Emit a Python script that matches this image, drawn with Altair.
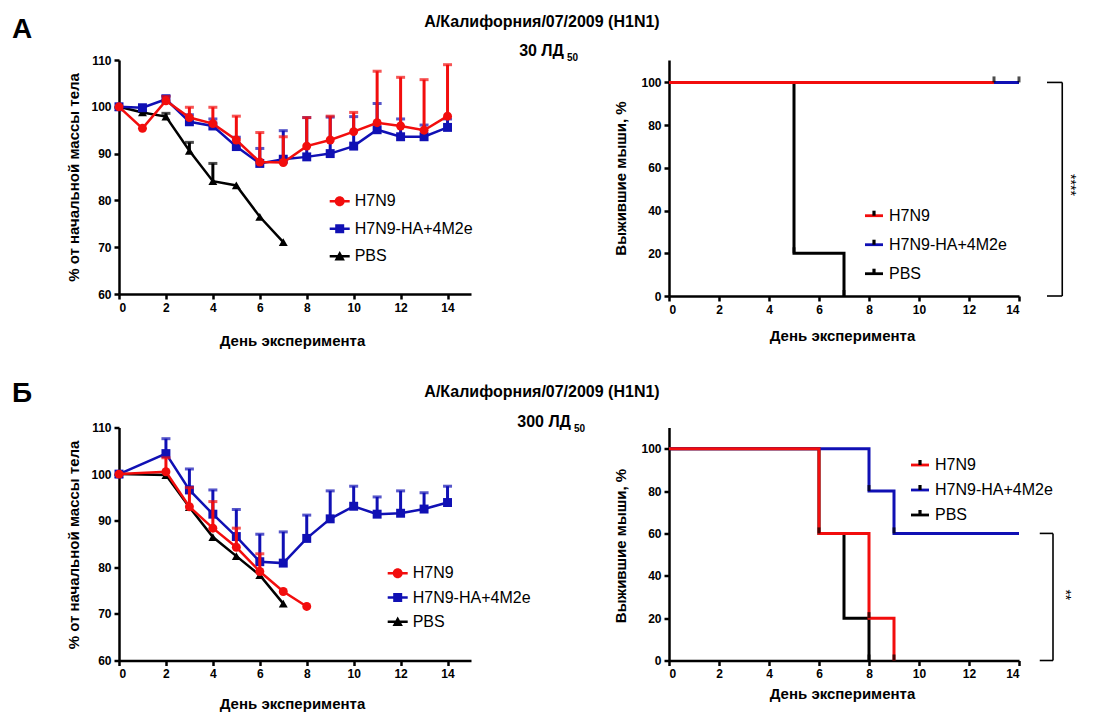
import altair as alt
import pandas as pd

FONT = "Liberation Sans"
SERIES = ["H7N9", "H7N9-HA+4M2e", "PBS"]
TICK_KEYS = ["t1", "t2", "t3"]
COLORS = ["#f20d0d", "#1010b4", "#000000"]
MARKERS = ["circle", "square", "triangle-up"]

# ---------- Panel A (30 LD50): body weight, % of initial ----------
A_DAYS = [0, 1, 2, 3, 4, 5, 6, 7, 8, 9, 10, 11, 12, 13, 14]
A_H7N9_MEAN = [100, 95.4, 101.3, 97.7, 96.4, 92.9, 88.2, 88.1, 91.6, 92.9, 94.7, 96.6, 95.9, 95.0, 98.0]
A_H7N9_ERR = [0, 0, 0.9, 2.2, 3.5, 5.1, 6.3, 5.5, 6.1, 5.1, 4.1, 11.0, 10.4, 10.8, 11.0]
A_HA_MEAN = [100, 99.8, 101.6, 96.8, 95.9, 91.5, 87.9, 88.8, 89.3, 90.0, 91.6, 95.1, 93.6, 93.6, 95.6]
A_HA_ERR = [0, 0.3, 0.8, 1.5, 1.5, 2.0, 3.2, 6.1, 8.4, 7.8, 6.3, 5.6, 3.8, 2.5, 1.8]
A_PBS_DAYS = [0, 1, 2, 3, 4, 5, 6, 7]
A_PBS_MEAN = [100, 98.8, 97.9, 90.6, 84.1, 83.2, 76.5, 71.1]
A_PBS_ERR = [0, 0.3, 0.7, 1.8, 3.8, 0, 0, 0]

# ---------- Panel A: survival, % ----------
A_S_H7N9_DAYS = [0, 13]
A_S_H7N9 = [100, 100]
A_S_HA_DAYS = [0, 14]
A_S_HA = [100, 100]
A_S_PBS_DAYS = [0, 5, 7]
A_S_PBS = [100, 20, 0]
A_CENSOR_DAYS = [13, 14, 5, 7]
A_CENSOR_PCT = [100, 100, 20, 0]

# ---------- Panel Б (300 LD50): body weight ----------
B_H7N9_DAYS = [0, 2, 3, 4, 5, 6, 7, 8]
B_H7N9_MEAN = [100, 100.5, 93.0, 88.4, 84.3, 79.1, 74.8, 71.6]
B_H7N9_ERR = [0, 3.0, 4.1, 5.7, 4.1, 3.8, 0, 0]
B_HA_DAYS = [0, 2, 3, 4, 5, 6, 7, 8, 9, 10, 11, 12, 13, 14]
B_HA_MEAN = [100, 104.4, 96.6, 91.4, 86.6, 81.2, 80.9, 86.2, 90.4, 93.1, 91.4, 91.6, 92.5, 93.9]
B_HA_ERR = [0, 3.2, 4.5, 5.2, 5.8, 5.9, 6.7, 5.0, 6.0, 4.3, 3.7, 4.8, 3.5, 3.5]
B_PBS_DAYS = [0, 2, 3, 4, 5, 6, 7]
B_PBS_MEAN = [100, 99.8, 92.9, 86.5, 82.4, 78.3, 72.2]
B_PBS_ERR = [0, 0, 0, 0, 0, 0, 0]

# ---------- Panel Б: survival ----------
B_S_H7N9_DAYS = [0, 6, 8, 9]
B_S_H7N9 = [100, 60, 20, 0]
B_S_HA_DAYS = [0, 8, 9, 14]
B_S_HA = [100, 80, 60, 60]
B_S_PBS_DAYS = [0, 6, 7, 8]
B_S_PBS = [100, 60, 20, 0]
B_CENSOR_DAYS = [6, 8, 9, 8, 8, 9]
B_CENSOR_PCT = [60, 80, 60, 20, 0, 0]

# significance brackets (day units beyond the axis, % units)
A_BRACKET_X = [15.12, 15.73]
A_BRACKET_Y = [100, 0]
A_STARS = "****"
A_STARS_POS = [16.05, 52]
B_BRACKET_X = [14.83, 15.36]
B_BRACKET_Y = [60, 0]
B_STARS = "**"
B_STARS_POS = [15.85, 31]

TITLE = "А/Калифорния/07/2009 (H1N1)"
X_TITLE = "День эксперимента"
W_TITLE = "% от начальной массы тела"
S_TITLE = "Выжившие мыши, %"

BAR = "M-1,-0.13H1V0.13H-1Z"
LEG_MARKERS = [
    BAR + " M0.5,0A0.5,0.5,0,1,1,-0.5,0A0.5,0.5,0,1,1,0.5,0Z",
    BAR + " M-0.45,-0.45H0.45V0.45H-0.45Z",
    BAR + " M0,-0.52L0.52,0.42H-0.52Z",
]
SURV_LINE = "M-0.9,-0.14H0.9V0.14H-0.9Z"
SURV_TICK = "M-0.16,-0.5H0.16V0H-0.16Z"


def wdf(series, days, mean, err):
    return pd.DataFrame({"series": series, "day": days, "mean": mean, "err": err})


def sdf(series, days, pct):
    key = TICK_KEYS[SERIES.index(series)]
    return pd.DataFrame({"series": series, "tickkey": key, "day": days, "pct": pct})


def label(text, x, y, size, align="center", weight="bold"):
    return alt.Chart(pd.DataFrame({"t": [text]})).mark_text(
        font=FONT, fontSize=size, fontWeight=weight, align=align, color="black"
    ).encode(text="t:N", x=alt.value(x), y=alt.value(y))


def legend(lx, ly, rowpad, **kw):
    return alt.Legend(
        orient="none", legendX=lx, legendY=ly, title=None, padding=0,
        symbolSize=400, symbolStrokeWidth=0, symbolOpacity=1, rowPadding=rowpad,
        labelFont=FONT, labelFontSize=16, labelColor="black", labelOffset=5, **kw
    )


def weight_panel(df, h, title_y, leg, annot):
    X = alt.X("day:Q", scale=alt.Scale(domain=[0, 15], nice=False),
              axis=alt.Axis(values=[0, 2, 4, 6, 8, 10, 12, 14], title=X_TITLE,
                            titleX=173, titleY=title_y, titleBaseline="middle"))
    yscale = alt.Scale(domain=[60, 110], nice=False)
    yaxis = alt.Axis(values=[60, 70, 80, 90, 100, 110], title=W_TITLE,
                     titleX=-46, titleY=117, titleBaseline="middle")
    Y = alt.Y("mean:Q", scale=yscale, axis=yaxis)
    YU = alt.Y("upper:Q", scale=yscale, axis=yaxis)
    base = alt.Chart(df)
    layers = []
    for name in ["PBS", "H7N9-HA+4M2e", "H7N9"]:
        i = SERIES.index(name)
        col = COLORS[i]
        sub = base.transform_filter(alt.datum.series == name)
        err = sub.transform_filter("datum.err > 0").transform_calculate(upper="datum.mean + datum.err")
        layers.append(err.mark_rule(color=col, strokeWidth=3).encode(x=X, y=Y, y2="upper:Q"))
        layers.append(err.mark_tick(color=col, orient="horizontal", size=9, thickness=3).encode(x=X, y=YU))
        layers.append(sub.mark_line(color=col, strokeWidth=2.5).encode(x=X, y=Y))
        layers.append(sub.mark_point(shape=MARKERS[i], filled=True, size=80, color=col, opacity=1).encode(x=X, y=Y))
    lg = legend(*leg)
    driver = base.mark_point(opacity=0, filled=True).encode(
        x=X, y=Y,
        color=alt.Color("series:N", scale=alt.Scale(domain=SERIES, range=COLORS), legend=lg),
        shape=alt.Shape("series:N", scale=alt.Scale(domain=SERIES, range=LEG_MARKERS), legend=lg),
    )
    layers.append(driver)
    layers.extend(annot)
    return alt.layer(*layers).properties(width=352, height=h)


def surv_panel(df, censor, bx, by, stars, stars_pos, h, ymax, title_y, leg):
    X = alt.X("day:Q", scale=alt.Scale(domain=[0, 14], nice=False),
              axis=alt.Axis(values=[0, 2, 4, 6, 8, 10, 12, 14], title=X_TITLE,
                            titleX=173, titleY=title_y, titleBaseline="middle"))
    Y = alt.Y("pct:Q", scale=alt.Scale(domain=[0, ymax], nice=False),
              axis=alt.Axis(values=[0, 20, 40, 60, 80, 100], title=S_TITLE,
                            titleX=-49, titleY=118, titleBaseline="middle"))
    base = alt.Chart(df)
    layers = []
    for name in ["PBS", "H7N9-HA+4M2e", "H7N9"]:
        col = COLORS[SERIES.index(name)]
        layers.append(base.transform_filter(alt.datum.series == name).mark_line(
            color=col, strokeWidth=3, interpolate="step-after").encode(x=X, y=Y))
    layers.append(alt.Chart(censor).mark_tick(orient="vertical", size=6, thickness=3, color="black",
                                              yOffset=-3).encode(x=X, y=Y))
    br = pd.DataFrame({"day": [bx[0], bx[1], bx[0]], "day2": [bx[1], bx[1], bx[1]],
                       "pct": [by[0], by[0], by[1]], "pct2": [by[0], by[1], by[1]]})
    layers.append(alt.Chart(br).mark_rule(color="black", strokeWidth=1.6).encode(
        x=X, x2="day2:Q", y=Y, y2="pct2:Q"))
    st = pd.DataFrame({"day": [stars_pos[0]], "pct": [stars_pos[1]], "t": [stars]})
    layers.append(alt.Chart(st).mark_text(angle=90, fontSize=14, font=FONT, fill="#000000").encode(
        x=X, y=Y, text="t:N"))
    lg1 = legend(leg[0], leg[1], leg[2], symbolType=SURV_LINE)
    lg2 = legend(leg[0], leg[1], leg[2], labelExpr="''")
    layers.append(base.mark_point(opacity=0, filled=True).encode(
        x=X, y=Y, color=alt.Color("series:N", scale=alt.Scale(domain=SERIES, range=COLORS), legend=lg1)))
    layers.append(base.mark_point(opacity=0, filled=True, color="black").encode(
        x=X, y=Y, shape=alt.Shape("tickkey:N", scale=alt.Scale(domain=TICK_KEYS, range=[SURV_TICK] * 3),
                                  legend=lg2)))
    return alt.layer(*layers).properties(width=350, height=h)


aw = pd.concat([wdf("H7N9", A_DAYS, A_H7N9_MEAN, A_H7N9_ERR),
                wdf("H7N9-HA+4M2e", A_DAYS, A_HA_MEAN, A_HA_ERR),
                wdf("PBS", A_PBS_DAYS, A_PBS_MEAN, A_PBS_ERR)])
bw = pd.concat([wdf("H7N9", B_H7N9_DAYS, B_H7N9_MEAN, B_H7N9_ERR),
                wdf("H7N9-HA+4M2e", B_HA_DAYS, B_HA_MEAN, B_HA_ERR),
                wdf("PBS", B_PBS_DAYS, B_PBS_MEAN, B_PBS_ERR)])
as_ = pd.concat([sdf("H7N9", A_S_H7N9_DAYS, A_S_H7N9), sdf("H7N9-HA+4M2e", A_S_HA_DAYS, A_S_HA),
                 sdf("PBS", A_S_PBS_DAYS, A_S_PBS)])
bs_ = pd.concat([sdf("H7N9", B_S_H7N9_DAYS, B_S_H7N9), sdf("H7N9-HA+4M2e", B_S_HA_DAYS, B_S_HA),
                 sdf("PBS", B_S_PBS_DAYS, B_S_PBS)])
ac = pd.DataFrame({"day": A_CENSOR_DAYS, "pct": A_CENSOR_PCT})
bc = pd.DataFrame({"day": B_CENSOR_DAYS, "pct": B_CENSOR_PCT})

annot_a = [label("А", -107, -30, 28, align="left"), label(TITLE, 423, -38, 16),
           label("30 ЛД", 445, -9, 16, align="right"), label("50", 448, -2, 10, align="left")]
annot_b = [label("Б", -107, -34, 28, align="left"), label(TITLE, 423, -35.5, 16),
           label("300 ЛД", 452, -5.5, 16, align="right"), label("50", 455, 1.5, 10, align="left")]

pa = weight_panel(aw, 234, 46.7, (210.7, 131.2, 9.5), annot_a)
sa = surv_panel(as_, ac, A_BRACKET_X, A_BRACKET_Y, A_STARS, A_STARS_POS, 236, 110.5, 39, (195, 145.7, 11))
pb = weight_panel(bw, 233, 42.5, (268.7, 135.8, 6.2), annot_b)
sb = surv_panel(bs_, bc, B_BRACKET_X, B_BRACKET_Y, B_STARS, B_STARS_POS, 233, 110, 32.5, (241, 27.5, 7))

chart = alt.concat(pa, sa, pb, sb, columns=2, bounds="flush",
                   spacing=alt.RowColnumber(row=131.5, column=198)).resolve_scale(
    color="independent", shape="independent").resolve_legend(
    color="independent", shape="independent").properties(
    padding={"left": 4, "top": 6, "right": 5, "bottom": 5}).configure_axis(
    domainColor="black", domainWidth=2.5, tickColor="black", tickWidth=2.5, tickSize=5,
    labelFont=FONT, labelFontSize=12, labelFontWeight="bold", labelColor="black", labelPadding=3,
    grid=False, titleFont=FONT, titleFontSize=15, titleFontWeight="bold", titleColor="black"
).configure_view(stroke=None)

chart.save("out.html", embed_options={"renderer": "svg", "actions": False})
